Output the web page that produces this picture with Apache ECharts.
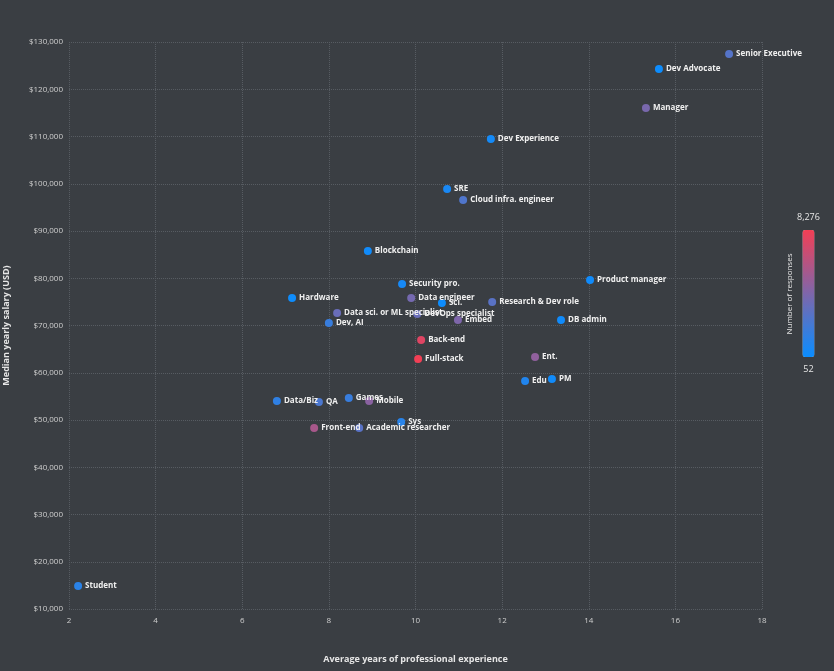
<!DOCTYPE html>
<html>
<head>
<meta charset="utf-8">
<script src="https://cdn.jsdelivr.net/npm/echarts@6/dist/echarts.min.js"></script>
<style>
html,body{margin:0;padding:0;background:#3a3e43;}
#chart{width:834px;height:671px;}
</style>
</head>
<body>
<div id="chart"></div>
<script>
const roles = ["Senior Executive","Dev Advocate","Manager","Dev Experience","SRE","Cloud infra. engineer","Blockchain","Product manager","Security pro.","Hardware","Data engineer","Sci.","Research & Dev role","Data sci. or ML specialist","DevOps specialist","Embed","DB admin","Dev, AI","Back-end","Full-stack","Ent.","Edu","PM","Data/Biz","QA","Games","Mobile","Sys","Front-end","Academic researcher","Student"];
const years = [17.24,15.62,15.32,11.74,10.73,11.10,8.90,14.03,9.69,7.15,9.90,10.61,11.77,8.19,10.04,10.98,13.36,8.00,10.13,10.06,12.76,12.53,13.15,6.80,7.77,8.46,8.93,9.67,7.66,8.70,2.21];
const salaries = [127460,124290,116030,109470,98890,96570,85770,79640,78790,75830,75830,74770,74980,72660,72450,71180,71180,70540,66940,62920,63340,58270,58690,54040,53820,54670,54040,49590,48320,48320,14890];
const responses = [2700,150,4000,400,600,2520,300,250,500,200,3850,150,2850,3420,3420,4160,250,1700,7620,8276,4800,870,300,1370,2350,1700,4580,1100,5650,2850,1200];
const xTicks = {min:2, max:18, interval:2};
const yTicks = {min:10000, max:130000, interval:10000};
const respMin = 52, respMax = 8276;

const data = roles.map((r,i)=>[years[i], salaries[i], responses[i], r]);
const chart = echarts.init(document.getElementById('chart'));
const fontFam = '"Open Sans", "Noto Sans", sans-serif';
chart.setOption({
  backgroundColor:'#3a3e43',
  textStyle:{fontFamily:fontFam},
  grid:{left:69,right:72,top:42,bottom:62,containLabel:false,outerBoundsMode:'none'},
  xAxis:{
    type:'value', min:xTicks.min, max:xTicks.max, interval:xTicks.interval,
    name:'Average years of professional experience', nameLocation:'middle', nameGap:46,
    nameTextStyle:{color:'#e6e6e6',fontSize:9,fontWeight:'bold',fontFamily:fontFam},
    axisLine:{show:false}, axisTick:{show:false},
    axisLabel:{color:'#cfcfcf',fontSize:8,margin:8,fontFamily:fontFam},
    splitLine:{show:true,lineStyle:{color:'#575c62',type:'dotted',width:1}}
  },
  yAxis:{
    type:'value', min:yTicks.min, max:yTicks.max, interval:yTicks.interval,
    name:'Median yearly salary (USD)', nameLocation:'middle', nameGap:58,
    nameTextStyle:{color:'#e6e6e6',fontSize:9,fontWeight:'bold',fontFamily:fontFam},
    axisLine:{show:false}, axisTick:{show:false},
    axisLabel:{color:'#cfcfcf',fontSize:8,margin:6,fontFamily:fontFam,
      formatter:v=>'$'+v.toLocaleString('en-US')},
    splitLine:{show:true,lineStyle:{color:'#575c62',type:'dotted',width:1}}
  },
  visualMap:{
    type:'continuous', min:respMin, max:respMax, dimension:2,
    orient:'vertical', left:782, top:198,
    itemWidth:12, itemHeight:127, calculable:false,
    text:['8,276','52'], textGap:8,
    textStyle:{color:'#e6e6e6',fontSize:9,fontFamily:fontFam},
    inRange:{color:['#0a8dff','#f23f55']}
  },
  graphic:[{
    type:'text', x:790, y:294, rotation:Math.PI/2,
    style:{text:'Number of responses', fill:'#e6e6e6', fontSize:8, fontFamily:fontFam,
      align:'center', verticalAlign:'middle'}
  }],
  series:[{
    type:'scatter', data:data, symbolSize:8,
    label:{show:true, position:'right', distance:3, formatter:p=>p.data[3],
      color:'#f0f0f0', fontSize:8, fontWeight:'bold', fontFamily:fontFam},
    itemStyle:{opacity:1}
  }]
});
</script>
</body>
</html>
